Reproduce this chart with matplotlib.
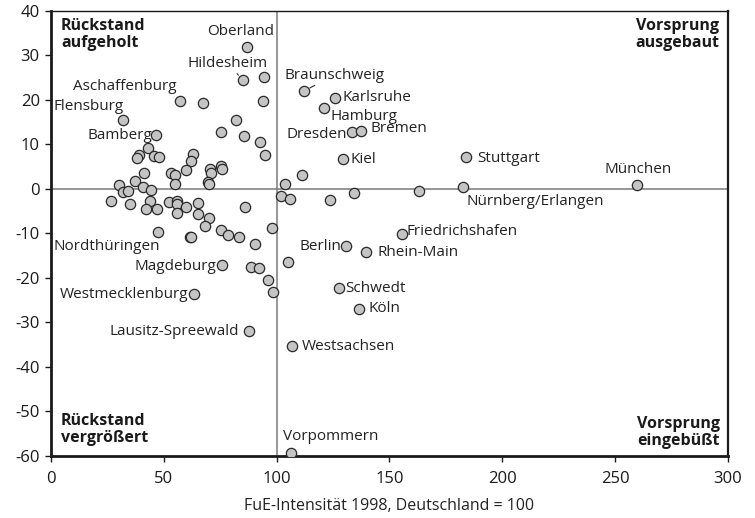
import matplotlib

matplotlib.use("Agg")

import matplotlib.pyplot as plt

plt.rcParams["font.family"] = ["Open Sans", "DejaVu Sans"]
plt.rcParams["axes.unicode_minus"] = False

# labelled regions: FuE-Intensität 1998 (x) and change in points (y)
named_regions = [
    "Oberland", "Hildesheim", "Braunschweig", "Karlsruhe", "Hamburg",
    "Aschaffenburg", "Flensburg", "Bamberg", "Dresden", "Bremen", "Kiel",
    "Stuttgart", "München", "Nürnberg/Erlangen", "Nordthüringen", "Berlin",
    "Rhein-Main", "Friedrichshafen", "Magdeburg", "Westmecklenburg",
    "Schwedt", "Köln", "Lausitz-Spreewald", "Westsachsen", "Vorpommern",
]
named_x = [
    86.8, 85.1, 112.0, 125.8, 121.0, 57.3, 31.9, 46.7, 133.2, 137.4, 129.5,
    183.9, 259.8, 182.7, 47.3, 130.9, 139.4, 155.7, 75.9, 63.5, 127.6, 136.5,
    87.7, 106.8, 106.2,
]
named_y = [
    31.8, 24.4, 22.0, 20.5, 18.1, 19.7, 15.4, 12.1, 12.7, 13.1, 6.7, 7.1,
    1.0, 0.4, -9.7, -12.9, -14.1, -10.2, -17.0, -23.6, -22.3, -26.9, -32.0,
    -35.3, -59.3,
]

# unlabelled regions
other_x = [
    94.2, 67.3, 93.9, 82.0, 75.2, 85.6, 92.7, 94.7, 43.1, 39.1, 38.0, 45.5,
    47.7, 62.9, 62.0, 60.0, 41.1, 53.2, 54.9, 70.3, 70.9, 75.4, 75.6, 37.4,
    54.9, 69.6, 69.9, 30.0, 40.8, 44.2, 31.8, 34.0, 26.7, 35.1, 44.0, 42.0,
    46.8, 52.3, 55.7, 56.0, 55.8, 60.0, 65.3, 65.0, 70.1, 68.4, 86.0, 98.1,
    75.5, 78.4, 83.2, 90.4, 61.6, 62.0, 103.5, 111.1, 101.9, 105.8, 123.8,
    134.1, 163.0, 88.7, 92.2, 105.1, 96.3, 98.2,
]
other_y = [
    25.2, 19.4, 19.8, 15.4, 12.8, 11.9, 10.6, 7.6, 9.1, 7.6, 6.9, 7.4, 7.1,
    7.9, 6.2, 4.3, 3.7, 3.7, 3.1, 4.4, 3.7, 5.2, 4.6, 1.8, 1.1, 1.6, 1.1, 0.8,
    0.4, -0.2, -0.7, -0.5, -2.8, -3.3, -2.7, -4.5, -4.4, -2.9, -2.6, -3.4,
    -5.5, -4.0, -3.1, -5.6, -6.6, -8.4, -4.1, -8.8, -9.3, -10.3, -10.9,
    -12.4, -10.7, -10.9, 1.2, 3.1, -1.6, -2.3, -2.5, -0.8, -0.4, -17.5,
    -17.7, -16.3, -20.4, -23.1,
]

x_ticks = [0, 50, 100, 150, 200, 250, 300]
y_ticks = [40, 30, 20, 10, 0, -10, -20, -30, -40, -50, -60]

# label placement: offset in pixels from the point, horizontal alignment, leader line
label_layout = {
    "Oberland": (-6, 16, "center", False),
    "Hildesheim": (-15, 17, "center", True),
    "Braunschweig": (31, 16, "center", True),
    "Karlsruhe": (8, 0, "left", False),
    "Hamburg": (6, -8, "left", False),
    "Aschaffenburg": (-4, 15, "right", False),
    "Flensburg": (1, 14, "right", False),
    "Bamberg": (-4, 0, "right", False),
    "Dresden": (-5, -2, "right", False),
    "Bremen": (9, 2, "left", False),
    "Kiel": (7, 0, "left", False),
    "Stuttgart": (11, -1, "left", False),
    "München": (1, 15, "center", False),
    "Nürnberg/Erlangen": (3, -14, "left", False),
    "Nordthüringen": (2, -14, "right", False),
    "Berlin": (-5, 0, "right", False),
    "Rhein-Main": (12, -1, "left", False),
    "Friedrichshafen": (4, 3, "left", False),
    "Magdeburg": (-6, -2, "right", False),
    "Westmecklenburg": (-6, 0, "right", False),
    "Schwedt": (6, 0, "left", False),
    "Köln": (9, 0, "left", False),
    "Lausitz-Spreewald": (-10, 0, "right", False),
    "Westsachsen": (10, 0, "left", False),
    "Vorpommern": (-8, 16, "left", False),
}

fig = plt.figure(figsize=(7.55, 5.18), dpi=100)
ax = fig.add_axes([0.0675, 0.1197, 0.8967, 0.8591])

ax.axvline(100, color="#7a7a7a", lw=1.1, zorder=1)
ax.axhline(0, color="#7a7a7a", lw=1.1, zorder=1)

marker_style = dict(s=55, facecolor="#c4c4c4", edgecolor="#2a2a2a", linewidths=0.9, zorder=3)
ax.scatter(other_x, other_y, **marker_style)
ax.scatter(named_x, named_y, **marker_style)

for name, px, py in zip(named_regions, named_x, named_y):
    dx, dy, ha, leader = label_layout[name]
    arrow = None
    if leader:
        arrow = dict(arrowstyle="-", color="#2a2a2a", lw=0.8, shrinkA=0, shrinkB=5)
    ax.annotate(
        name, (px, py), xytext=(dx, dy), textcoords="offset pixels",
        ha=ha, va="center", fontsize=11, color="#222222",
        arrowprops=arrow, zorder=4,
    )

corner = dict(fontsize=11.5, fontweight="bold", color="#1a1a1a", transform=ax.transAxes,
              linespacing=1.1)
ax.text(0.015, 0.984, "Rückstand\naufgeholt", ha="left", va="top", **corner)
ax.text(0.988, 0.984, "Vorsprung\nausgebaut", ha="right", va="top", multialignment="left", **corner)
ax.text(0.015, 0.022, "Rückstand\nvergrößert", ha="left", va="bottom", **corner)
ax.text(0.988, 0.015, "Vorsprung\neingebüßt", ha="right", va="bottom", multialignment="left", **corner)

ax.set_xlim(0, 300)
ax.set_ylim(-60, 40)
ax.set_xticks(x_ticks)
ax.set_yticks(y_ticks)
ax.tick_params(axis="both", labelsize=12, colors="#1a1a1a", length=4, width=1)
ax.tick_params(axis="x", pad=7)
ax.tick_params(axis="y", pad=4)
ax.set_xlabel("FuE-Intensität 1998, Deutschland = 100", fontsize=11.5, color="#222222", labelpad=8)

ax.spines["left"].set_linewidth(2)
ax.spines["bottom"].set_linewidth(2)
ax.spines["top"].set_linewidth(1)
ax.spines["right"].set_linewidth(1.6)
for side in ax.spines.values():
    side.set_color("#1a1a1a")

fig.savefig("out.png", dpi=100)
